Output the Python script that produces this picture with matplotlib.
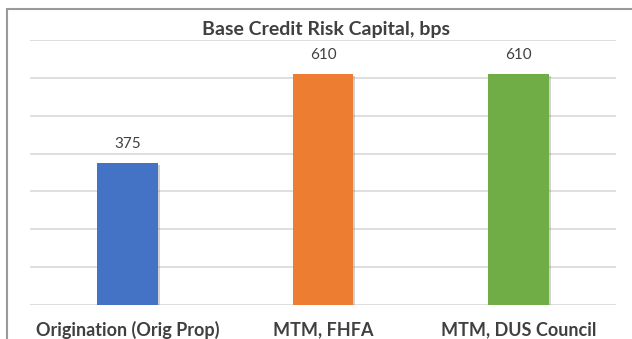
import matplotlib
matplotlib.use("Agg")
import matplotlib.pyplot as plt
import matplotlib.patheffects as pe
from matplotlib.patches import Rectangle

# chart data
categories = ["Origination (Orig Prop)", "MTM, FHFA", "MTM, DUS Council"]
values = [375, 610, 610]
bar_colors = ["#4472C4", "#ED7D31", "#70AD47"]
title = "Base Credit Risk Capital, bps"

W, H = 632, 339
fig = plt.figure(figsize=(W / 100, H / 100), dpi=100)
fig.patch.set_facecolor("white")

# outer chart border (cut off on right and bottom like the screenshot)
fig.patches.append(Rectangle((7 / W, -0.1), 1.2, (H - 9) / H + 0.1,
                             transform=fig.transFigure, fill=False,
                             edgecolor="#9A9A9A", linewidth=1.5))

ax = fig.add_axes([30 / W, (H - 305) / H, (616 - 30) / W, (305 - 40) / H])
x = range(len(categories))
bars = ax.bar(x, values, width=0.31, color=bar_colors, zorder=3)
for b in bars:
    b.set_path_effects([pe.SimplePatchShadow(offset=(1.5, -1.5), shadow_rgbFace="#7F7F7F", alpha=0.35),
                        pe.Normal()])

ax.set_xlim(-0.5, 2.5)
ax.set_ylim(0, 700)
ax.set_yticks(range(0, 701, 100))
ax.yaxis.grid(True, color="#D9D9D9", linewidth=1.2, zorder=0)
ax.tick_params(left=False, labelleft=False, bottom=False)
for s in ax.spines.values():
    s.set_visible(False)

ax.set_xticks(list(x))
ax.set_xticklabels(categories, fontsize=13, fontweight="bold", color="#404040",
                   family="Lato")
ax.tick_params(axis="x", pad=8)

for xi, v in zip(x, values):
    ax.annotate(str(v), (xi, v), xytext=(0, 9), textcoords="offset points",
                ha="center", va="bottom", fontsize=11, color="#404040", family="Lato")

fig.text(326 / W, (H - 29) / H, title, ha="center", va="center", fontsize=14,
         fontweight="bold", color="#404040", family="Lato")

fig.savefig("out.png", dpi=100)
